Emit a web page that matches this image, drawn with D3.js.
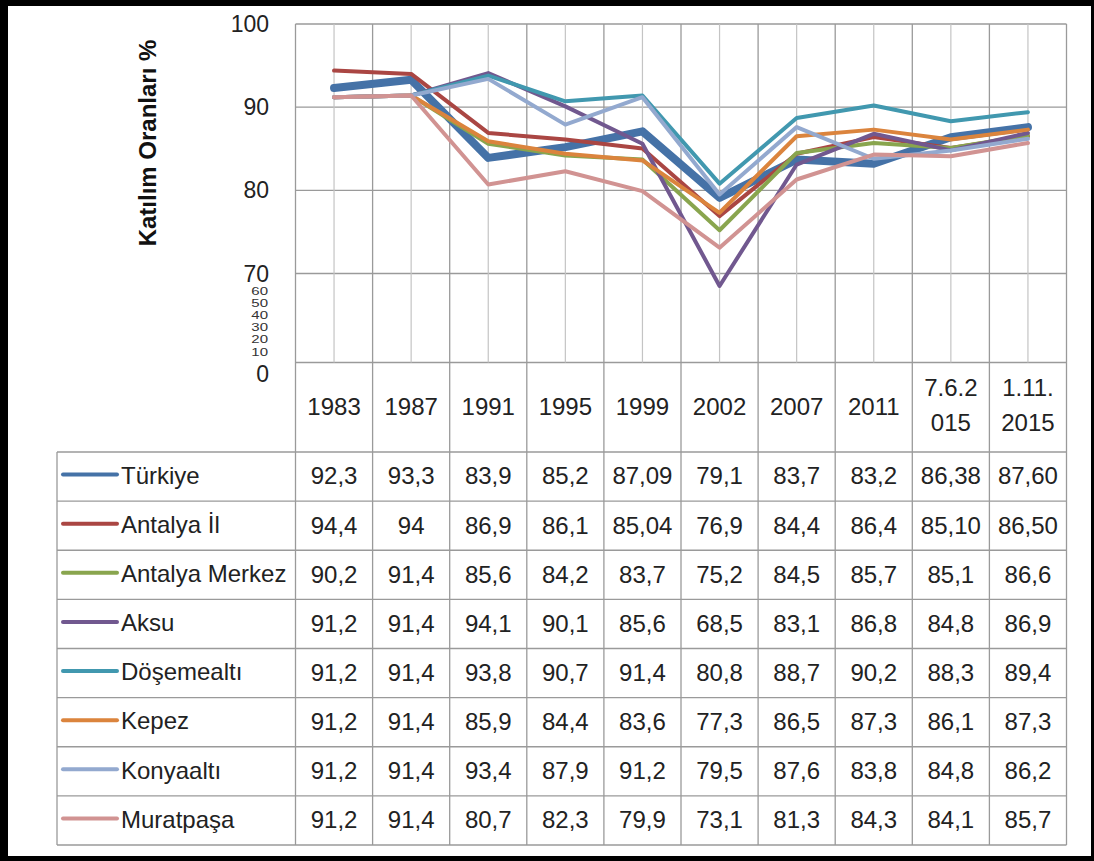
<!DOCTYPE html>
<html lang="tr">
<head>
<meta charset="UTF-8" />
<title>Katılım Oranları</title>
<script src="https://d3js.org/d3.v7.min.js"></script>
<style>
  body { margin: 0; background: #fff; }
  svg { display: block; font-family: "Liberation Sans", Arial, sans-serif; }
  .grid { stroke: #9a9a9a; stroke-width: 1.3; fill: none; }
  .grid-minor { stroke: #c4c4c4; stroke-width: 1.2; }
  .cell { fill: #222; font-size: 24px; }
</style>
</head>
<body>
<svg id="chart" width="1094" height="861"></svg>
<script>
// categories (header row)
const years = ["1983", "1987", "1991", "1995", "1999", "2002", "2007", "2011", "7.6.2015", "1.11.2015"];
const headerLines = [["1983"], ["1987"], ["1991"], ["1995"], ["1999"], ["2002"], ["2007"], ["2011"], ["7.6.2", "015"], ["1.11.", "2015"]];

// series values, as printed in the table
const turkiye   = ["92,3", "93,3", "83,9", "85,2", "87,09", "79,1", "83,7", "83,2", "86,38", "87,60"];
const antalyaIl = ["94,4", "94",   "86,9", "86,1", "85,04", "76,9", "84,4", "86,4", "85,10", "86,50"];
const merkez    = ["90,2", "91,4", "85,6", "84,2", "83,7",  "75,2", "84,5", "85,7", "85,1",  "86,6"];
const aksu      = ["91,2", "91,4", "94,1", "90,1", "85,6",  "68,5", "83,1", "86,8", "84,8",  "86,9"];
const dosemealti= ["91,2", "91,4", "93,8", "90,7", "91,4",  "80,8", "88,7", "90,2", "88,3",  "89,4"];
const kepez     = ["91,2", "91,4", "85,9", "84,4", "83,6",  "77,3", "86,5", "87,3", "86,1",  "87,3"];
const konyaalti = ["91,2", "91,4", "93,4", "87,9", "91,2",  "79,5", "87,6", "83,8", "84,8",  "86,2"];
const muratpasa = ["91,2", "91,4", "80,7", "82,3", "79,9",  "73,1", "81,3", "84,3", "84,1",  "85,7"];

const seriesNames = ["Türkiye", "Antalya İl", "Antalya Merkez", "Aksu", "Döşemealtı", "Kepez", "Konyaaltı", "Muratpaşa"];
const seriesValues = [turkiye, antalyaIl, merkez, aksu, dosemealti, kepez, konyaalti, muratpasa];
const colors = ["#4572A7", "#AA4643", "#89A54E", "#71588F", "#4198AF", "#DB843D", "#93A9CF", "#D19392"];
// first year drawn in the chart (Antalya Merkez line starts at 1987)
const plotFrom = [0, 0, 1, 0, 0, 0, 0, 0];

// y axis ticks: 70-100 at full size, 0-60 squeezed into the bottom band
const bigTicks = [100, 90, 80, 70];
const smallTicks = [60, 50, 40, 30, 20, 10];

const series = seriesNames.map((name, i) => ({
  name,
  color: colors[i],
  labels: seriesValues[i],
  values: seriesValues[i].map((s, j) => j < plotFrom[i] ? null : parseFloat(s.replace(",", ".")))
}));

const svg = d3.select("#chart");

// outer frame
svg.append("rect").attr("x", 0).attr("y", 0).attr("width", 1094).attr("height", 861).attr("fill", "#000");
svg.append("rect").attr("x", 8).attr("y", 6).attr("width", 1083).attr("height", 850).attr("fill", "#fff");

const plotLeft = 295.5, plotRight = 1066.5, plotTop = 24, plotBottom = 362.5;
const headerBottom = 452, tableBottom = 845, legendLeft = 57;

const x = d3.scaleBand().domain(years).range([plotLeft, plotRight]);
const y = d3.scaleLinear().domain([70, 100]).range([273.5, plotTop]);
const ySmall = d3.scaleLinear().domain([10, 60]).range([352, 291]);
const row = d3.scaleBand().domain(seriesNames).range([headerBottom, tableBottom]);
const cx = d => x(d) + x.bandwidth() / 2;

// horizontal gridlines
svg.append("g").selectAll("line")
  .data(bigTicks.map(d => y(d)).concat([plotBottom]))
  .join("line")
  .attr("class", "grid")
  .attr("x1", plotLeft).attr("x2", plotRight)
  .attr("y1", d => d).attr("y2", d => d);

// light vertical lines at category centres
svg.append("g").selectAll("line")
  .data(years)
  .join("line")
  .attr("class", "grid-minor")
  .attr("x1", cx).attr("x2", cx)
  .attr("y1", plotTop).attr("y2", plotBottom);

// column borders through plot and table
const edges = years.map(d => x(d)).concat([plotRight]);
svg.append("g").selectAll("line")
  .data(edges)
  .join("line")
  .attr("class", "grid")
  .attr("x1", d => d).attr("x2", d => d)
  .attr("y1", plotTop).attr("y2", tableBottom);

// table row borders
const rowEdges = seriesNames.map(d => row(d)).concat([tableBottom]);
svg.append("g").selectAll("line")
  .data(rowEdges)
  .join("line")
  .attr("class", "grid")
  .attr("x1", legendLeft).attr("x2", plotRight)
  .attr("y1", d => d).attr("y2", d => d);
svg.append("line").attr("class", "grid")
  .attr("x1", legendLeft).attr("x2", legendLeft)
  .attr("y1", headerBottom).attr("y2", tableBottom);

// y axis labels
svg.append("g").selectAll("text")
  .data(bigTicks)
  .join("text")
  .attr("x", 269).attr("y", d => y(d))
  .attr("dy", "0.35em")
  .attr("text-anchor", "end")
  .attr("font-size", 23).attr("fill", "#222")
  .text(d => d);
svg.append("text")
  .attr("x", 269).attr("y", plotBottom + 11)
  .attr("dy", "0.35em")
  .attr("text-anchor", "end")
  .attr("font-size", 23).attr("fill", "#222")
  .text("0");
svg.append("g").selectAll("text")
  .data(smallTicks)
  .join("text")
  .attr("transform", d => `translate(268,${ySmall(d)}) scale(1,0.7)`)
  .attr("dy", "0.35em")
  .attr("text-anchor", "end")
  .attr("font-size", 15).attr("fill", "#333")
  .text(d => d);

svg.append("text")
  .attr("transform", "translate(156,143) rotate(-90)")
  .attr("text-anchor", "middle")
  .attr("font-size", 24).attr("font-weight", "bold").attr("fill", "#111")
  .text("Katılım Oranları %");

// header labels
const header = svg.append("g").selectAll("text")
  .data(years)
  .join("text")
  .attr("class", "cell")
  .attr("text-anchor", "middle")
  .attr("x", cx)
  .attr("y", (d, i) => headerLines[i].length > 1 ? 388 : 407);
header.each(function (d, i) {
  d3.select(this).selectAll("tspan")
    .data(headerLines[i])
    .join("tspan")
    .attr("x", cx(d))
    .attr("dy", (t, j) => j === 0 ? "0.35em" : 35)
    .text(t => t);
});

// lines
const line = d3.line()
  .defined(v => v !== null)
  .x((v, i) => cx(years[i]))
  .y(v => y(v));
svg.append("g").selectAll("path")
  .data(series)
  .join("path")
  .attr("fill", "none")
  .attr("stroke", d => d.color)
  .attr("stroke-width", (d, i) => i === 0 ? 8 : 4)
  .attr("stroke-linejoin", "round")
  .attr("stroke-linecap", "round")
  .attr("d", d => line(d.values));

// table rows: legend key + values
const rows = svg.append("g").selectAll("g")
  .data(series)
  .join("g")
  .attr("transform", d => `translate(0,${row(d.name) + row.bandwidth() / 2})`);
rows.append("line")
  .attr("x1", 63).attr("x2", 117)
  .attr("y1", -2).attr("y2", -2)
  .attr("stroke", d => d.color)
  .attr("stroke-width", 4)
  .attr("stroke-linecap", "round");
rows.append("text")
  .attr("class", "cell")
  .attr("x", 121).attr("dy", "0.3em")
  .text(d => d.name);
rows.selectAll("text.val")
  .data(d => d.labels)
  .join("text")
  .attr("class", "cell val")
  .attr("text-anchor", "middle")
  .attr("x", (d, i) => cx(years[i]))
  .attr("dy", "0.33em")
  .text(d => d);
</script>
</body>
</html>
